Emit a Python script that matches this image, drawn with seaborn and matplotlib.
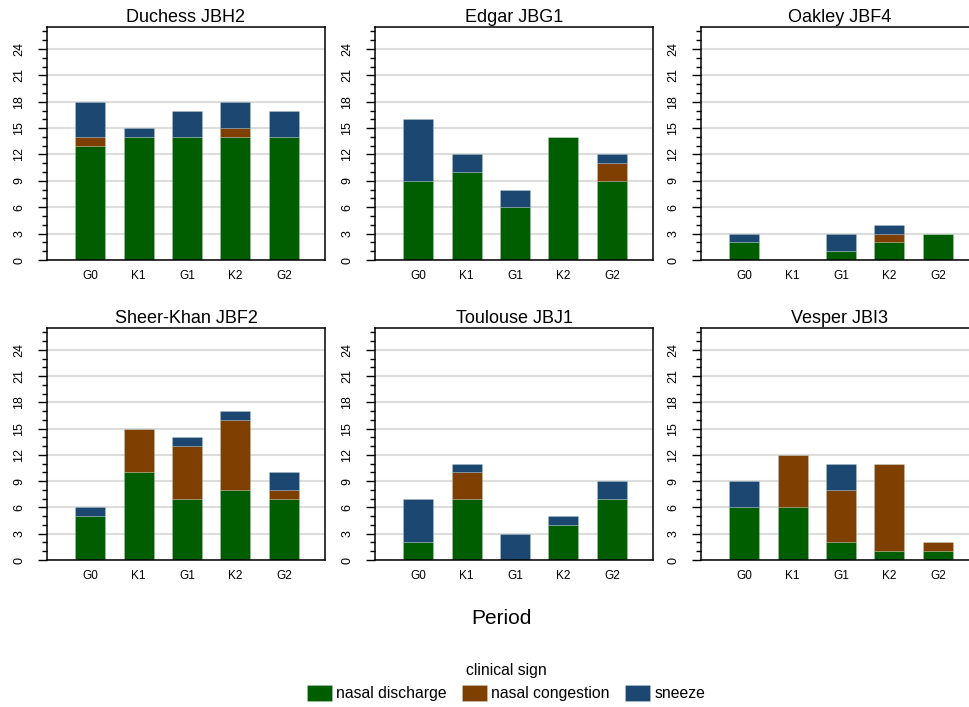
import matplotlib
matplotlib.use("Agg")
import matplotlib.pyplot as plt
from matplotlib.patches import Patch
from matplotlib.ticker import MultipleLocator
import pandas as pd
import seaborn as sns

# Observation periods and clinical signs
periods = ["G0", "K1", "G1", "K2", "G2"]
signs = ["nasal discharge", "nasal congestion", "sneeze"]
animals = ["Duchess JBH2", "Edgar JBG1", "Oakley JBF4",
           "Sheer-Khan JBF2", "Toulouse JBJ1", "Vesper JBI3"]

# Counts per period (G0, K1, G1, K2, G2) for each animal
nasal_discharge = {
    "Duchess JBH2":    [13, 14, 14, 14, 14],
    "Edgar JBG1":      [9, 10, 6, 14, 9],
    "Oakley JBF4":     [2, 0, 1, 2, 3],
    "Sheer-Khan JBF2": [5, 10, 7, 8, 7],
    "Toulouse JBJ1":   [2, 7, 0, 4, 7],
    "Vesper JBI3":     [6, 6, 2, 1, 1],
}
nasal_congestion = {
    "Duchess JBH2":    [1, 0, 0, 1, 0],
    "Edgar JBG1":      [0, 0, 0, 0, 2],
    "Oakley JBF4":     [0, 0, 0, 1, 0],
    "Sheer-Khan JBF2": [0, 5, 6, 8, 1],
    "Toulouse JBJ1":   [0, 3, 0, 0, 0],
    "Vesper JBI3":     [0, 6, 6, 10, 1],
}
sneeze = {
    "Duchess JBH2":    [4, 1, 3, 3, 3],
    "Edgar JBG1":      [7, 2, 2, 0, 1],
    "Oakley JBF4":     [1, 0, 2, 1, 0],
    "Sheer-Khan JBF2": [1, 0, 1, 1, 2],
    "Toulouse JBJ1":   [5, 1, 3, 1, 2],
    "Vesper JBI3":     [3, 0, 3, 0, 0],
}

colors = {"nasal discharge": "#005e00",
          "nasal congestion": "#7f3f00",
          "sneeze": "#1c4771"}
edge = (0.8, 0.88, 0.85, 0.35)

# Long-format table
rows = []
for sign, table in zip(signs, [nasal_discharge, nasal_congestion, sneeze]):
    for animal in animals:
        for i, p in enumerate(periods):
            rows.append({"animal": animal, "period": p, "pos": i,
                         "sign": sign, "count": table[animal][i]})
df = pd.DataFrame(rows)

sns.set_theme(style="ticks")
plt.rcParams["font.family"] = ["Liberation Sans", "DejaVu Sans"]
plt.rcParams["text.color"] = "black"
plt.rcParams["xtick.color"] = "black"
plt.rcParams["ytick.color"] = "black"

W, H = 970, 707
fig = plt.figure(figsize=(W / 100, H / 100), dpi=100)

col_left = [47, 375, 701]
row_span = [(27, 260), (328, 560)]
panel_w = 278

for k, animal in enumerate(animals):
    r, c = divmod(k, 3)
    top, bottom = row_span[r]
    ax = fig.add_axes([col_left[c] / W, 1 - bottom / H,
                       panel_w / W, (bottom - top) / H])
    sub = df[df["animal"] == animal]
    # last hue level sits at the bottom of each stack
    sns.histplot(data=sub, x="pos", weights="count", hue="sign",
                 hue_order=signs[::-1], multiple="stack", discrete=True,
                 shrink=0.62, palette=colors, alpha=1,
                 edgecolor=edge, linewidth=0.5,
                 legend=False, ax=ax)
    ax.set_xlim(-0.89, 4.85)
    ax.set_ylim(0, 26.5)
    ax.set_xticks(range(len(periods)), periods)
    ax.yaxis.set_major_locator(MultipleLocator(3))
    ax.yaxis.set_minor_locator(MultipleLocator(1))
    ax.tick_params(axis="x", length=0, pad=7, labelsize=8.5)
    ax.tick_params(axis="y", which="major", length=6.5, width=1,
                   pad=9, labelsize=9)
    ax.tick_params(axis="y", which="minor", length=3.5, width=1)
    for lab in ax.get_yticklabels():
        lab.set_rotation(90)
        lab.set_va("center")
    ax.grid(axis="y", which="major", color="#dddddd", lw=1.5)
    ax.set_axisbelow(True)
    for sp in ax.spines.values():
        sp.set_visible(True)
        sp.set_color("black")
        sp.set_linewidth(1.1)
    ax.set_xlabel("")
    ax.set_ylabel("")
    ax.set_title(animal, fontsize=13, pad=3.5)

fig.text(501 / W, 1 - 618 / H, "Period", ha="center", va="center",
         fontsize=15)

handles = [Patch(facecolor=colors[s], edgecolor=edge, lw=0.6,
                 label=s) for s in signs]
fig.legend(handles=handles, loc="center", ncol=3,
           bbox_to_anchor=(506 / W, 1 - 682 / H), frameon=False,
           title="clinical sign", fontsize=11.3, title_fontsize=11.3,
           handlelength=1.6, handleheight=1.1, handletextpad=0.25,
           columnspacing=1.0, labelspacing=0.5)

fig.savefig("out.png", dpi=100)
